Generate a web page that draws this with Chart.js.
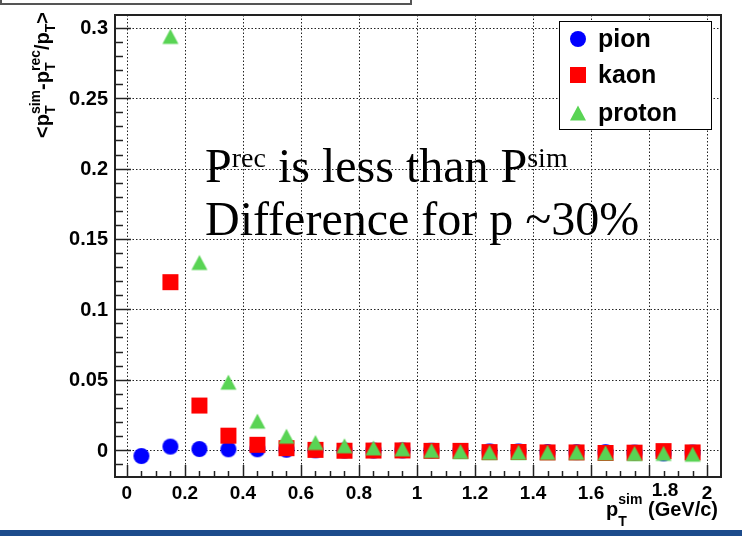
<!DOCTYPE html>
<html><head><meta charset="utf-8">
<script src="https://cdn.jsdelivr.net/npm/chart.js@4.4.0/dist/chart.umd.min.js"></script>
<style>html,body{margin:0;padding:0;background:#fff;overflow:hidden}#wrap{position:relative;width:742px;height:536px}canvas{display:block}</style>
</head><body><div id="wrap"><canvas id="c" width="742" height="536"></canvas></div>
<script>
// ---- data ----
const ptBins = [0.05,0.15,0.25,0.35,0.45,0.55,0.65,0.75,0.85,0.95,1.05,1.15,1.25,1.35,1.45,1.55,1.65,1.75,1.85,1.95];
const pion   = [-0.0043,0.0024,0.0007,0.0005,0.0005,0.0002,-0.0002,-0.0004,-0.0004,-0.0003,-0.0005,-0.0007,-0.0010,-0.0010,-0.0014,-0.0015,-0.0015,-0.0018,-0.0024,-0.0018];
const kaon   = [null,0.1193,0.0316,0.0102,0.0037,0.0013,0.0001,-0.0005,-0.0004,-0.0003,-0.0006,-0.0006,-0.0015,-0.0014,-0.0017,-0.0017,-0.0021,-0.0019,-0.0008,-0.0017];
const proton = [null,0.294,0.1333,0.0482,0.0205,0.0098,0.0053,0.0030,0.0015,0.0008,-0.0004,-0.0011,-0.0017,-0.0017,-0.0017,-0.0017,-0.0021,-0.0025,-0.0024,-0.0030];
const seriesNames = ['pion','kaon','proton'];
const seriesColors = ['#0000ff','#ff0000','#59d454'];
const xTickValues = [0,0.2,0.4,0.6,0.8,1,1.2,1.4,1.6,1.8,2];
const xTickLabels = ['0','0.2','0.4','0.6','0.8','1','1.2','1.4','1.6','1.8','2'];
const yTickValues = [0,0.05,0.1,0.15,0.2,0.25,0.3];
const yTickLabels = ['0','0.05','0.1','0.15','0.2','0.25','0.3'];
const xRange = [-0.041, 2.048];
const yRange = [-0.0192, 0.3092];

// ---- marker images ----
function marker(kind, color){
  const c = document.createElement('canvas'); c.width = 18; c.height = 18;
  const g = c.getContext('2d'); g.fillStyle = color;
  if(kind==='circle'){ g.beginPath(); g.arc(9,9,8,0,Math.PI*2); g.fill(); }
  else if(kind==='square'){ g.fillRect(1,1,16,16); }
  else { g.beginPath(); g.moveTo(9,1.5); g.lineTo(17,16.5); g.lineTo(1,16.5); g.closePath(); g.fill(); }
  return c;
}
const markers = [marker('circle',seriesColors[0]), marker('square',seriesColors[1]), marker('tri',seriesColors[2])];

function pts(arr){ return ptBins.map((x,i)=>({x:x,y:arr[i]})).filter(p=>p.y!==null); }

const SANS = '"Liberation Sans", Arial, Helvetica, sans-serif';
const SERIF = '"Liberation Serif", "Times New Roman", serif';

function measureItems(ctx, items){
  let w = 0;
  items.forEach(it=>{
    if(it.ss){ ctx.font = it.font; it.w = Math.max(ctx.measureText(it.sub).width, ctx.measureText(it.sup).width); }
    else { ctx.font = it.font; it.w = ctx.measureText(it.t).width; }
    w += it.w;
  });
  return w;
}
function drawItems(ctx, items, x, y){
  let cx = x;
  items.forEach(it=>{
    ctx.font = it.font;
    if(it.ss){
      if(it.sub) ctx.fillText(it.sub, cx, y + it.subDy);
      if(it.sup) ctx.fillText(it.sup, cx, y + it.supDy);
    } else ctx.fillText(it.t, cx, y + (it.dy||0));
    cx += it.w;
  });
}

const rootPlugin = {
  id:'rootStyle',
  beforeDatasetsDraw(chart){
    const ctx = chart.ctx, a = chart.chartArea, xs = chart.scales.x, ys = chart.scales.y;
    ctx.save();
    ctx.strokeStyle = '#222'; ctx.lineWidth = 1; ctx.setLineDash([1.5,2]);
    xTickValues.forEach(v=>{ const px = Math.round(xs.getPixelForValue(v))+0.5; ctx.beginPath(); ctx.moveTo(px,a.top); ctx.lineTo(px,a.bottom); ctx.stroke(); });
    yTickValues.forEach(v=>{ const py = Math.round(ys.getPixelForValue(v))+0.5; ctx.beginPath(); ctx.moveTo(a.left,py); ctx.lineTo(a.right,py); ctx.stroke(); });
    ctx.restore();
  },
  afterDatasetsDraw(chart){
    const ctx = chart.ctx, a = chart.chartArea, xs = chart.scales.x, ys = chart.scales.y;
    ctx.save();
    // frame
    ctx.strokeStyle = '#222'; ctx.lineWidth = 2;
    ctx.strokeRect(a.left, a.top, a.right-a.left, a.bottom-a.top);
    // y ticks
    ctx.lineWidth = 1.5;
    for(let k=-1;k<=30;k++){
      const v = k/100; const py = Math.round(ys.getPixelForValue(v))+0.5;
      const len = (k%5===0)?16:8;
      ctx.beginPath(); ctx.moveTo(a.left,py); ctx.lineTo(a.left+len,py); ctx.stroke();
    }
    // x ticks
    for(let k=0;k<=40;k++){
      const v = k*0.05; const px = Math.round(xs.getPixelForValue(v))+0.5;
      const len = (k%4===0)?12:6;
      ctx.beginPath(); ctx.moveTo(px,a.bottom); ctx.lineTo(px,a.bottom-len); ctx.stroke();
    }
    // tick labels
    ctx.fillStyle = '#000';
    ctx.font = 'bold 20px '+SANS; ctx.textAlign='right'; ctx.textBaseline='middle';
    yTickValues.forEach((v,i)=>ctx.fillText(yTickLabels[i], 108, ys.getPixelForValue(v)+1));
    ctx.font = 'bold 19px '+SANS; ctx.textAlign='center'; ctx.textBaseline='alphabetic';
    xTickValues.forEach((v,i)=>{
      // ROOT nudged the 1.8 label to the right / up (away from the axis title)
      const nudgeX = xTickLabels[i]==='1.8' ? 16 : 0, nudgeY = xTickLabels[i]==='1.8' ? -3 : 0;
      ctx.fillText(xTickLabels[i], xs.getPixelForValue(v)+nudgeX, 499+nudgeY);
    });
    // x title
    ctx.textAlign='left';
    const big = 'bold 20px '+SANS, sm = 'bold 14px '+SANS;
    const xt = [{t:'p',font:big},{ss:true,sub:'T',sup:'sim',font:sm,subDy:10,supDy:-12},{t:' (GeV/c)',font:big}];
    const xw = measureItems(ctx, xt);
    drawItems(ctx, xt, 718 - xw, 516);
    // y title
    const yb = 'bold 20px '+SANS, ysm = 'bold 14px '+SANS;
    const yt = [{t:'<',font:yb},{t:'p',font:yb},{ss:true,sub:'T',sup:'sim',font:ysm,subDy:6,supDy:-9},{t:'-',font:yb},
                {t:'p',font:yb},{ss:true,sub:'T',sup:'rec',font:ysm,subDy:6,supDy:-9},{t:'/',font:yb},
                {t:'p',font:yb},{ss:true,sub:'T',sup:'',font:ysm,subDy:6,supDy:-9},{t:'>',font:yb}];
    const yw = measureItems(ctx, yt);
    ctx.save(); ctx.translate(49, 75); ctx.rotate(-Math.PI/2);
    drawItems(ctx, yt, -yw/2, 0);
    ctx.restore();
    // legend
    ctx.fillStyle='#fff'; ctx.fillRect(559,21,153,109);
    ctx.strokeStyle='#000'; ctx.lineWidth=1; ctx.strokeRect(559.5,21.5,152,108);
    const ly = [39,75,113];
    ctx.fillStyle='#000'; ctx.font='bold 25px '+SANS; ctx.textAlign='left'; ctx.textBaseline='alphabetic';
    seriesNames.forEach((n,i)=>{ ctx.drawImage(markers[i], 578-9, ly[i]-9); ctx.fillText(n, 598, ly[i]+8); });
    // annotation
    const s1 = '48px '+SERIF, s2 = '28px '+SERIF;
    const l1 = [{t:'P',font:s1},{t:'rec',font:s2,dy:-15},{t:' is less than P',font:s1},{t:'sim',font:s2,dy:-15}];
    measureItems(ctx,l1);
    drawItems(ctx, l1, 205, 182);
    ctx.font = s1; ctx.fillText('Difference for p ~30%', 205, 235);
    // top pad box
    ctx.strokeStyle='#555'; ctx.lineWidth=2; ctx.strokeRect(1,-3,410,7);
    // bottom bar
    ctx.fillStyle='#1d4c8c'; ctx.fillRect(0,530,742,6);
    ctx.restore();
  }
};

new Chart(document.getElementById('c'), {
  type:'scatter',
  data:{ datasets:[pion,kaon,proton].map((arr,i)=>({
    label: seriesNames[i], data: pts(arr), pointStyle: markers[i], pointRadius: 8, pointHoverRadius: 8,
    order: 3 - i,
    backgroundColor: seriesColors[i], borderColor: seriesColors[i], showLine:false }))},
  options:{
    responsive:false, animation:false, devicePixelRatio:1,
    layout:{padding:{left:115,top:15,right:21,bottom:59}},
    scales:{
      x:{type:'linear',min:xRange[0],max:xRange[1],display:false},
      y:{type:'linear',min:yRange[0],max:yRange[1],display:false}
    },
    plugins:{legend:{display:false},tooltip:{enabled:false}}
  },
  plugins:[rootPlugin]
});
</script></body></html>
